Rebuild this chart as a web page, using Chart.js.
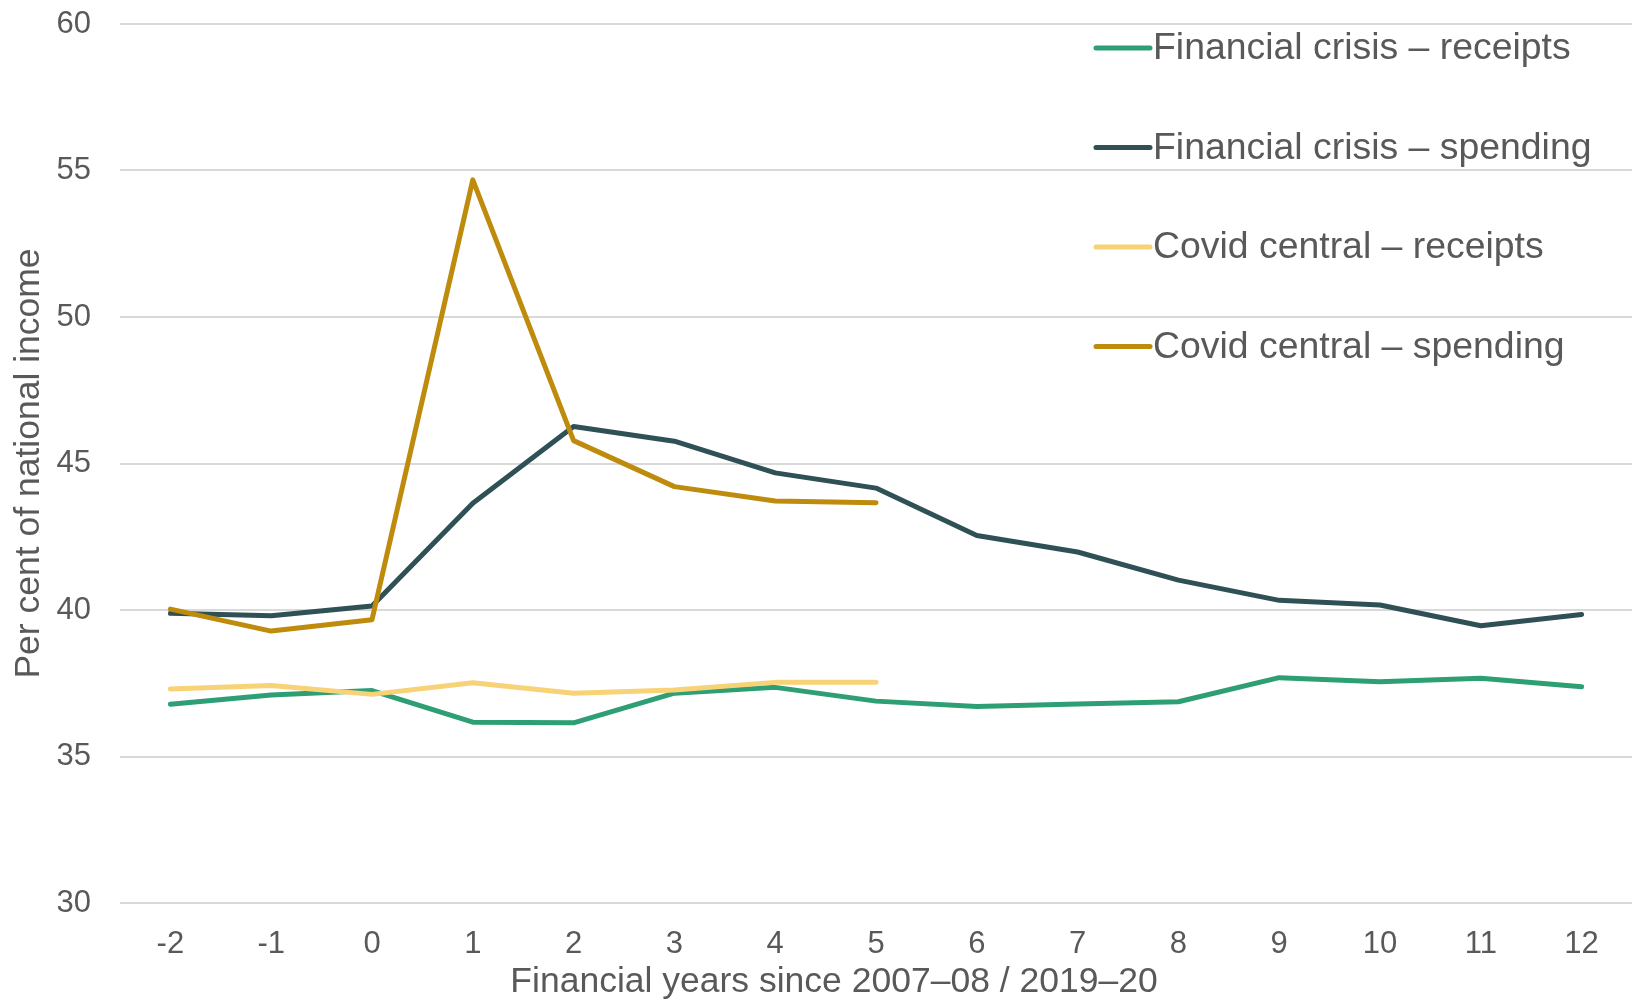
<!DOCTYPE html>
<html>
<head>
<meta charset="utf-8">
<script src="https://cdn.jsdelivr.net/npm/chart.js@4.4.1/dist/chart.umd.min.js"></script>
<style>
  html, body { margin: 0; padding: 0; background: #ffffff; }
  #wrap { width: 1632px; height: 1002px; position: relative; }
</style>
</head>
<body>
<div id="wrap"><canvas id="chart"></canvas></div>
<script>
// Financial years relative to the start of each crisis
const years = ['-2', '-1', '0', '1', '2', '3', '4', '5', '6', '7', '8', '9', '10', '11', '12'];

// Per cent of national income
const financialCrisisReceipts = [36.78, 37.1, 37.25, 36.17, 36.15, 37.16, 37.36, 36.89, 36.71, 36.79, 36.87, 37.69, 37.55, 37.67, 37.38];
const financialCrisisSpending = [39.89, 39.8, 40.14, 43.64, 46.26, 45.76, 44.68, 44.16, 42.54, 41.98, 41.02, 40.33, 40.17, 39.46, 39.85];
const covidReceipts = [37.3, 37.42, 37.12, 37.52, 37.16, 37.27, 37.53, 37.53, null, null, null, null, null, null, null];
const covidSpending = [40.03, 39.28, 39.67, 54.68, 45.78, 44.21, 43.72, 43.66, null, null, null, null, null, null, null];

const seriesNames = [
  'Financial crisis \u2013 receipts',
  'Financial crisis \u2013 spending',
  'Covid central \u2013 receipts',
  'Covid central \u2013 spending'
];
const seriesColours = ['#2e9f74', '#2f5055', '#f7d277', '#be8b0d'];

const yTicks = { min: 30, max: 60, step: 5 };
const xTitle = 'Financial years since 2007\u201308 / 2019\u201320';
const yTitle = 'Per cent of national income';

const FONT = '"Liberation Sans", Arial, sans-serif';
const TEXT = '#595959';

// Legend drawn inside the plot, top right
const insideLegend = {
  id: 'insideLegend',
  afterDatasetsDraw(chart) {
    const { ctx, chartArea } = chart;
    const x0 = chartArea.right - 536;
    const lineLen = 54;
    const gap = 3;
    const y0 = chartArea.top + 24;
    const rowH = 99.5;
    ctx.save();
    chart.data.datasets.forEach((ds, i) => {
      const y = y0 + i * rowH;
      ctx.strokeStyle = ds.borderColor;
      ctx.lineWidth = 5;
      ctx.lineCap = 'round';
      ctx.beginPath();
      ctx.moveTo(x0, y);
      ctx.lineTo(x0 + lineLen, y);
      ctx.stroke();
      ctx.fillStyle = TEXT;
      ctx.font = '37.4px ' + FONT;
      ctx.textBaseline = 'middle';
      ctx.textAlign = 'left';
      ctx.fillText(ds.label, x0 + lineLen + gap, y + 1);
    });
    ctx.restore();
  }
};

// Horizontal axis title, centred under the whole figure width
const xAxisTitle = {
  id: 'xAxisTitle',
  afterDraw(chart) {
    const { ctx, chartArea } = chart;
    ctx.save();
    ctx.fillStyle = TEXT;
    ctx.font = '35.5px ' + FONT;
    ctx.textAlign = 'center';
    ctx.textBaseline = 'alphabetic';
    ctx.fillText(xTitle, (chartArea.left + chartArea.right) / 2 - 42, chart.height - 10);
    ctx.restore();
  }
};

const values = [financialCrisisReceipts, financialCrisisSpending, covidReceipts, covidSpending];
const drawOrder = [4, 3, 2, 1];

new Chart(document.getElementById('chart'), {
  type: 'line',
  data: {
    labels: years,
    datasets: values.map((v, i) => ({
      label: seriesNames[i],
      data: v,
      borderColor: seriesColours[i],
      backgroundColor: seriesColours[i],
      borderWidth: 5,
      borderCapStyle: 'round',
      borderJoinStyle: 'round',
      pointRadius: 0,
      pointHoverRadius: 0,
      tension: 0,
      fill: false,
      spanGaps: false,
      order: drawOrder[i]
    }))
  },
  options: {
    responsive: true,
    maintainAspectRatio: false,
    animation: false,
    devicePixelRatio: 1,
    layout: { padding: { top: 24, right: 0, bottom: 0, left: 0 } },
    plugins: {
      legend: { display: false },
      tooltip: { enabled: false },
      title: { display: false }
    },
    scales: {
      x: {
        type: 'category',
        offset: true,
        grid: { display: false, drawTicks: false },
        border: { display: false },
        ticks: {
          color: TEXT,
          font: { family: FONT, size: 31 },
          padding: 22.5,
          maxRotation: 0,
          autoSkip: false
        },
        title: { display: false },
        afterFit(scale) {
          scale.height = 99;
          scale.paddingLeft = 0;
          scale.paddingRight = 0;
        }
      },
      y: {
        min: yTicks.min,
        max: yTicks.max,
        grid: { color: '#d9d9d9', lineWidth: 2, drawTicks: false },
        border: { display: false },
        ticks: {
          stepSize: yTicks.step,
          color: TEXT,
          font: { family: FONT, size: 31 },
          padding: 29
        },
        title: {
          display: true,
          text: yTitle,
          color: TEXT,
          font: { family: FONT, size: 35.5 },
          padding: { top: 8, bottom: 0 }
        },
        afterFit(scale) {
          scale.width = 120;
          scale.paddingTop = 0;
          scale.paddingBottom = 0;
        }
      }
    }
  },
  plugins: [insideLegend, xAxisTitle]
});
</script>
</body>
</html>
